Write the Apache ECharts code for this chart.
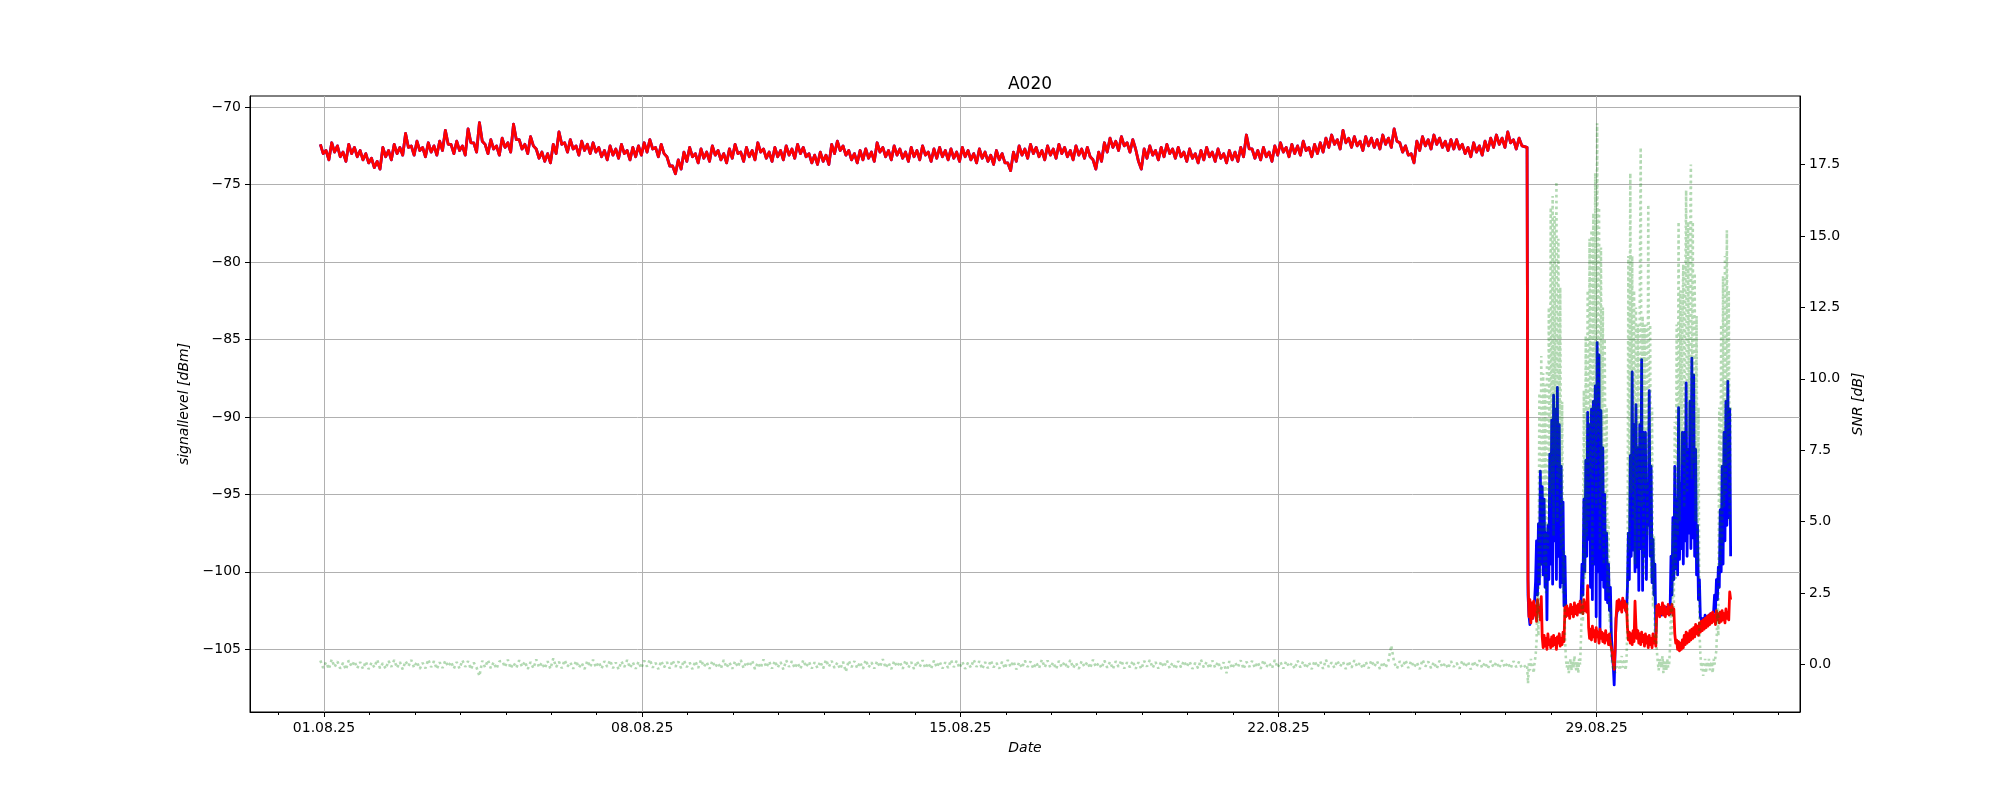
<!DOCTYPE html>
<html><head><meta charset="utf-8">
<script src="https://cdn.jsdelivr.net/npm/echarts@6/dist/echarts.min.js"></script>
<style>html,body{margin:0;padding:0;background:#fff}#c{width:2000px;height:800px}</style>
</head><body><div id="c"></div>
<script>
const chartTitle = 'A020';
const xName = 'Date';
const yLeftName = 'signallevel [dBm]';
const yRightName = 'SNR [dB]';
// x values are days since 01.08.25 00:00
const xTickDays = [0, 7, 14, 21, 28];
const xTickLabels = ['01.08.25', '08.08.25', '15.08.25', '22.08.25', '29.08.25'];
const xMinorDays = [-1,0,1,2,3,4,5,6,7,8,9,10,11,12,13,14,15,16,17,18,19,20,21,22,23,24,25,26,27,28,29,30,31,32];
const yLeftTicks = [-105, -100, -95, -90, -85, -80, -75, -70];
const yRightTicks = [0, 2.5, 5, 7.5, 10, 12.5, 15, 17.5];

// sampling of the readings (days)
const earlyStartDay = -0.08, earlyStepDay = 1 / 16;
const lateStartDay = 26.47, lateStepDay = 1 / 48;

// signal level before the drop (both traces overlap), 16 readings per day [dBm]
const signalEarly = [
-72.4,-73.0,-72.8,-73.4,-72.3,-72.9,-72.5,-73.2,-72.9,-73.5,-72.4,-73.0,-72.6,-73.2,-72.8,-73.4,
-73.0,-73.6,-73.3,-73.9,-73.5,-74.0,-72.6,-73.2,-72.8,-73.4,-72.4,-73.0,-72.6,-73.1,-71.7,-72.6,
-72.5,-73.1,-72.2,-72.8,-72.6,-73.2,-72.3,-72.9,-72.5,-73.1,-72.2,-72.8,-71.5,-72.4,-72.4,-73.0,
-72.2,-72.8,-72.5,-73.1,-71.4,-72.3,-72.3,-72.9,-71.0,-72.2,-72.4,-73.0,-72.1,-72.7,-72.5,-73.1,
-72.0,-72.6,-72.3,-72.9,-71.1,-72.1,-72.1,-72.7,-72.4,-73.0,-71.9,-72.5,-72.7,-73.3,-72.9,-73.5,
-73.0,-73.6,-72.4,-73.0,-71.6,-72.4,-72.3,-72.9,-72.1,-72.7,-72.5,-73.1,-72.2,-72.8,-72.4,-73.0,
-72.3,-72.9,-72.6,-73.2,-72.8,-73.4,-72.5,-73.1,-72.7,-73.3,-72.4,-73.0,-72.8,-73.4,-72.6,-73.2,
-72.5,-73.1,-72.3,-72.9,-72.1,-72.7,-72.6,-73.2,-72.4,-73.0,-73.2,-73.8,-73.8,-74.3,-73.4,-74.0,
-72.9,-73.5,-72.6,-73.2,-73.0,-73.6,-72.7,-73.3,-72.9,-73.5,-72.5,-73.1,-72.8,-73.4,-73.0,-73.6,
-72.7,-73.3,-72.4,-73.0,-72.9,-73.5,-72.6,-73.2,-72.8,-73.4,-72.3,-72.9,-72.7,-73.3,-72.9,-73.5,
-72.6,-73.2,-72.8,-73.4,-72.5,-73.1,-72.7,-73.3,-72.4,-73.0,-72.6,-73.2,-73.0,-73.6,-73.1,-73.7,
-72.9,-73.5,-73.1,-73.7,-72.4,-73.0,-72.2,-72.8,-72.5,-73.1,-72.8,-73.4,-73.0,-73.6,-72.8,-73.4,
-72.7,-73.3,-72.9,-73.5,-72.3,-72.9,-72.6,-73.2,-72.8,-73.4,-72.5,-73.1,-72.7,-73.3,-72.9,-73.5,
-72.6,-73.2,-72.8,-73.4,-72.5,-73.1,-72.9,-73.5,-72.7,-73.3,-72.6,-73.2,-72.8,-73.4,-72.7,-73.3,
-72.9,-73.5,-72.6,-73.2,-72.8,-73.4,-73.0,-73.6,-72.7,-73.3,-72.9,-73.5,-73.1,-73.7,-72.8,-73.4,
-73.0,-73.6,-73.6,-74.1,-72.9,-73.5,-72.5,-73.1,-72.7,-73.3,-72.4,-73.0,-72.6,-73.2,-72.8,-73.4,
-72.5,-73.1,-72.7,-73.3,-72.4,-73.0,-72.6,-73.2,-72.8,-73.4,-72.5,-73.1,-72.7,-73.3,-72.6,-73.2,
-73.4,-74.0,-72.9,-73.5,-72.3,-72.9,-72.0,-72.6,-72.2,-72.8,-71.9,-72.5,-72.3,-72.9,-72.1,-72.7,
-73.5,-74.0,-72.7,-73.3,-72.5,-73.1,-72.8,-73.4,-72.6,-73.2,-72.4,-73.0,-72.7,-73.3,-72.6,-73.2,
-72.9,-73.5,-72.7,-73.3,-73.0,-73.6,-72.8,-73.4,-72.6,-73.2,-72.9,-73.5,-72.7,-73.3,-73.0,-73.6,
-72.8,-73.4,-72.9,-73.5,-72.6,-73.2,-71.8,-72.7,-72.7,-73.3,-72.8,-73.4,-72.6,-73.2,-72.9,-73.5,
-72.5,-73.1,-72.3,-72.9,-72.6,-73.2,-72.4,-73.0,-72.5,-73.1,-72.2,-72.8,-72.6,-73.2,-72.4,-73.0,
-72.3,-72.9,-72.0,-72.6,-71.8,-72.4,-72.1,-72.7,-71.5,-72.3,-72.0,-72.6,-71.9,-72.5,-72.2,-72.8,
-71.9,-72.5,-72.0,-72.6,-72.1,-72.7,-71.8,-72.4,-72.0,-72.6,-71.4,-72.2,-72.3,-72.9,-72.5,-73.1,
-73.0,-73.6,-72.2,-72.8,-71.9,-72.5,-72.1,-72.7,-71.8,-72.4,-72.0,-72.6,-72.2,-72.8,-72.1,-72.7,
-72.1,-72.7,-72.4,-73.0,-72.6,-73.2,-72.3,-72.9,-72.5,-73.1,-72.2,-72.8,-72.0,-72.6,-71.8,-72.4,
-72.0,-72.6,-71.6,-72.3,-72.1,-72.7,-72.0,-72.5
];
// SNR before the drop, 16 readings per day [dB]
const snrEarly = [
0.14,-0.12,0.08,-0.16,0.18,-0.09,0.11,-0.14,0.06,-0.18,0.15,-0.07,0.12,-0.13,0.09,-0.15,
0.11,-0.16,0.07,-0.10,0.17,-0.13,0.05,-0.15,0.13,-0.08,0.16,-0.12,0.09,-0.17,0.12,-0.06,
0.16,-0.11,0.10,-0.15,0.06,-0.13,0.18,-0.09,0.12,-0.16,0.08,-0.12,0.14,-0.07,0.10,-0.14,
0.09,-0.14,0.15,-0.08,0.12,-0.17,0.07,-0.11,-0.40,0.13,-0.10,0.16,-0.13,0.08,-0.15,0.11,
0.13,-0.09,0.17,-0.14,0.06,-0.12,0.15,-0.08,0.11,-0.16,0.09,-0.13,0.18,-0.10,0.07,-0.14,
0.12,-0.15,0.22,-0.09,0.10,-0.13,0.16,-0.07,0.08,-0.15,0.13,-0.11,0.06,-0.16,0.14,-0.09,
0.17,-0.10,0.09,-0.14,0.12,-0.08,0.15,-0.13,0.07,-0.17,0.11,-0.09,0.16,-0.12,0.08,-0.15,
0.10,-0.13,0.14,-0.07,0.18,-0.11,0.06,-0.16,0.13,-0.10,0.09,-0.14,0.15,-0.08,0.11,-0.13,
0.15,-0.09,0.07,-0.16,0.12,-0.12,0.17,-0.08,0.09,-0.15,0.13,-0.10,0.06,-0.14,0.16,-0.11,
0.08,-0.15,0.12,-0.09,0.16,-0.13,0.10,-0.07,0.14,-0.16,0.07,-0.12,0.18,-0.10,0.11,-0.14,
0.13,-0.11,0.09,-0.17,0.15,-0.08,0.12,-0.13,0.06,-0.15,0.16,-0.09,0.10,-0.14,0.08,-0.12,
0.11,-0.14,0.17,-0.08,0.13,-0.12,0.07,-0.16,0.10,-0.25,0.14,-0.09,0.12,-0.13,0.09,-0.15,
0.16,-0.10,0.08,-0.14,0.12,-0.09,0.19,-0.12,0.07,-0.16,0.13,-0.08,0.10,-0.15,0.15,-0.11,
0.09,-0.16,0.12,-0.08,0.15,-0.13,0.06,-0.15,0.14,-0.10,0.11,-0.14,0.08,-0.12,0.16,-0.09,
0.13,-0.12,0.10,-0.15,0.07,-0.11,0.17,-0.08,0.12,-0.16,0.09,-0.13,0.15,-0.10,0.06,-0.14,
0.10,-0.14,0.16,-0.09,0.12,-0.17,0.08,-0.12,0.14,-0.08,0.11,-0.15,0.07,-0.13,0.17,-0.10,
0.14,-0.11,0.08,-0.16,0.13,-0.09,0.10,-0.14,0.16,-0.12,0.06,-0.15,0.12,-0.08,0.09,-0.13,
0.17,-0.09,0.06,-0.13,0.14,-0.11,0.10,-0.16,0.12,-0.08,0.15,-0.14,0.08,-0.10,0.13,-0.15,
0.08,-0.16,0.13,-0.07,0.16,-0.12,0.09,-0.14,0.11,-0.09,0.15,-0.13,0.07,-0.16,0.12,-0.10,
0.13,-0.08,0.11,-0.15,0.06,-0.13,0.17,-0.10,0.09,-0.14,0.14,-0.11,0.10,-0.16,0.08,-0.30,
0.12,-0.14,0.07,-0.10,0.15,-0.16,0.10,-0.08,0.13,-0.12,0.09,-0.15,0.16,-0.09,0.06,-0.13,
0.16,-0.11,0.09,-0.14,0.12,-0.08,0.05,-0.15,0.14,-0.10,0.11,-0.13,0.08,-0.16,0.13,-0.09,
0.11,-0.15,0.17,-0.09,0.08,-0.12,0.14,-0.07,0.10,-0.16,0.12,-0.11,0.15,-0.08,0.07,-0.14,
0.10,-0.13,0.15,-0.08,0.12,-0.16,0.09,-0.11,0.14,0.67,0.07,-0.14,0.12,-0.09,0.16,-0.12,
0.13,-0.10,0.08,-0.16,0.17,-0.07,0.11,-0.13,0.09,-0.15,0.14,-0.10,0.06,-0.14,0.12,-0.08,
0.06,-0.14,0.14,-0.09,0.10,-0.17,0.12,-0.08,0.15,-0.12,0.08,-0.15,0.13,-0.10,0.09,-0.13,
0.15,-0.11,0.07,-0.14,0.12,-0.09,0.10,-0.13
];
// red trace from the drop on, 48 readings per day [dBm]
const redLate = [
-72.6,
-100.5,-102.9,-101.8,-103.3,-102.0,-103.0,-101.9,-102.8,-102.2,-103.2,-101.8,-102.6,-102.3,-103.1,-101.6,
-104.2,-104.9,-104.1,-104.8,-104.3,-105.0,-104.0,-104.7,-104.4,-104.9,-104.2,-104.8,
-104.1,-104.7,-104.3,-105.0,-104.2,-104.6,-104.0,-104.8,-104.3,-104.7,-103.9,-104.5,
-102.3,-102.9,-102.2,-102.8,-102.4,-103.0,-102.1,-102.7,-102.3,-102.9,-102.0,-102.7,
-102.2,-102.8,-102.1,-102.6,-101.9,-102.6,-102.2,-102.7,-101.8,-102.5,-102.0,-102.6,
-100.9,
-103.6,-104.3,-103.7,-104.4,-103.5,-104.2,-103.8,-104.5,-103.6,-104.2,-103.9,-104.6,-103.7,
-104.3,-103.9,-104.5,-104.0,-104.6,-103.8,-104.4,-104.1,-104.7,-104.0,-104.6,-104.9,
-105.2,-105.8,-106.3,-105.0,
-103.0,
-101.9,-102.5,-101.8,-102.4,-102.0,-102.6,-101.7,-102.3,-101.9,-102.5,-102.1,
-103.6,-104.4,-103.9,-104.6,-104.0,-104.7,-103.8,-104.5,-101.9,-103.5,-104.3,-103.8,-104.6,-104.0,-104.7,-103.9,
-104.5,-104.1,-104.8,-104.0,-104.6,-104.2,-104.9,-104.1,-104.7,-104.3,-104.9,-104.0,-104.6,-104.2,-104.8,
-102.2,-102.8,-102.1,-102.9,-102.3,-102.7,-102.0,-102.8,-102.2,-102.9,-102.4,-102.7,-102.1,-102.8,-102.3,
-102.6,-102.1,-102.8,-102.4,
-104.0,-104.6,-104.4,-105.0,-104.5,-105.1,-104.6,-105.0,-104.4,-104.9,
-104.1,-104.7,-103.9,-104.6,-104.0,-104.5,-103.8,-104.4,-103.7,-104.3,
-103.6,-104.2,-103.4,-104.0,-103.5,-104.1,-103.3,-103.9,-103.2,-103.8,
-103.1,-103.7,-103.0,-103.6,-102.9,-103.5,-102.8,-103.4,-102.7,-103.3,
-102.6,-103.2,-102.8,-103.4,-102.5,-103.1,-102.7,-103.3,-102.6,-103.2,
-102.5,-103.1,-102.7,-103.3,-102.4,-103.0,-102.6,-103.1,-101.3,-101.8
];
// blue trace from the drop on, 48 readings per day [dBm]
const blueLate = [
-72.6,
-101.5,-102.8,-103.4,-102.1,-102.6,-103.0,-102.2,-101.8,
-100.6,-98.0,-101.5,-96.9,-100.8,-93.5,-99.5,-94.5,-100.2,-95.3,-101.0,-97.5,-103.1,-97.0,-100.5,-92.4,
-99.5,-90.2,-100.8,-88.6,-98.0,-89.5,-100.5,-88.1,-99.0,-90.5,-101.0,-93.2,-100.7,-95.5,-102.2,-99.0,
-102.7,-102.4,-102.8,-102.5,-102.6,-102.3,-102.7,-102.4,-102.5,-102.2,-102.6,-102.4,-102.3,-102.5,-102.1,-102.6,
-102.0,-99.5,-101.5,-95.3,-100.0,-92.8,-99.0,-89.7,-97.9,-90.5,-101.0,-89.5,-101.8,-89.0,-99.5,-88.0,-102.9,-85.2,-100.0,
-86.0,-104.0,-89.6,-100.5,-92.0,-101.0,-95.0,-101.8,-97.5,-102.0,-99.5,-102.5,-101.0,-104.0,-105.5,-106.0,-107.3,-105.0,-103.0,
-102.6,-102.2,-102.4,-102.0,-102.3,-101.9,-102.2,-102.0,-101.9,-102.3,-102.6,
-101.0,-97.5,-100.5,-92.5,-99.0,-87.1,-98.6,-90.5,-100.0,-89.2,-99.7,-92.0,-101.2,-90.5,-98.5,-86.3,
-101.2,-91.0,-99.0,-91.0,-100.5,-94.3,-97.0,-88.3,-99.0,-93.2,-100.7,-97.9,-101.5,-99.5,-104.0,-102.2,
-102.4,-102.7,-102.3,-102.5,-102.8,-102.2,-102.6,-102.4,-102.7,-102.3,-102.5,-102.6,-102.4,
-102.7,-99.0,-101.5,-96.5,-100.5,-93.2,-99.8,-95.3,-100.2,-89.4,-99.2,-94.3,-98.5,-91.0,-99.5,-91.0,-98.0,
-87.8,-99.0,-92.1,-97.5,-89.0,-98.5,-86.2,-97.8,-87.3,-99.0,-92.1,-100.2,-97.0,-101.8,-100.5,-102.9,
-103.1,-103.4,-103.0,-103.3,-102.8,-103.1,-102.9,-103.2,-102.8,-103.0,-102.7,-103.1,-102.8,
-102.6,-101.5,-102.4,-100.5,-101.8,-99.7,-101.0,-96.0,-100.0,-93.2,-99.5,-91.0,-98.0,-89.0,-97.0,-87.7,-96.5,-89.5,-99.0
];
// SNR from the drop on, 48 readings per day [dB]
const snrLate = [
0.0,
-0.66,0.1,-0.2,0.2,-0.1,0.0,-0.3,0.1,
0.3,0.8,2.5,1.0,9.5,3.0,10.8,4.5,10.2,3.5,9.8,2.5,10.5,4.0,12.5,5.5,
16.0,6.0,16.4,4.5,15.7,7.0,16.9,5.0,14.9,6.5,13.2,4.0,9.2,2.5,4.0,1.0,
0.2,-0.1,0.1,-0.3,0.0,0.2,-0.2,0.1,-0.1,0.3,0.0,-0.2,0.1,-0.3,0.2,0.0,
1.0,2.5,1.5,9.6,3.0,11.5,4.5,13.1,5.0,14.9,6.5,15.2,3.5,15.8,7.0,17.2,5.5,18.95,8.0,
16.0,4.0,14.6,6.0,12.5,3.5,11.4,4.5,9.0,2.5,5.0,1.5,2.0,0.3,0.0,-0.2,0.1,-0.3,0.0,
-0.1,0.2,0.0,-0.2,0.1,0.3,-0.1,0.0,0.2,-0.2,0.1,
1.5,14.3,4.0,17.2,6.0,14.3,5.0,13.1,3.5,12.5,6.5,11.9,4.0,12.5,18.1,5.5,
12.2,3.0,11.9,6.0,11.9,4.5,16.1,7.0,11.9,3.0,9.0,2.0,4.5,0.8,1.5,0.5,
0.1,-0.2,0.2,0.0,-0.1,0.3,-0.3,0.1,0.0,-0.2,0.2,-0.1,0.0,
0.6,2.0,1.0,5.0,2.0,8.5,3.0,11.9,4.5,15.5,5.0,13.1,7.0,12.0,14.0,5.5,12.5,
16.6,6.0,15.5,8.0,14.0,17.5,6.5,15.5,7.0,13.7,5.0,12.2,3.5,9.0,1.2,0.4,
-0.2,0.1,-0.4,0.0,0.2,-0.3,0.1,-0.1,0.2,-0.2,0.0,0.1,-0.3,
0.2,0.0,0.3,0.5,2.0,1.0,9.0,3.5,11.9,4.0,13.6,5.5,14.3,6.0,15.2,7.0,13.1,5.0,9.0
];

function pairs(vals, start, step) { return vals.map((v, i) => [start + i * step, v]); }
const redData = pairs(signalEarly, earlyStartDay, earlyStepDay).concat(pairs(redLate, lateStartDay, lateStepDay));
const blueData = pairs(signalEarly, earlyStartDay, earlyStepDay).concat(pairs(blueLate, lateStartDay, lateStepDay));
const snrData = pairs(snrEarly, earlyStartDay, earlyStepDay).concat(pairs(snrLate, lateStartDay, lateStepDay));

const FONT = 'DejaVu Sans';
const tickText = { fontFamily: FONT, fontSize: 14, color: '#000' };
const nameText = { fontFamily: FONT, fontSize: 14, color: '#000', fontStyle: 'italic' };
const blackLine = { show: true, onZero: false, lineStyle: { color: '#000', width: 1 } };

const chart = echarts.init(document.getElementById('c'), null, { renderer: 'canvas' });
chart.setOption({
  animation: false,
  backgroundColor: '#fff',
  title: { text: chartTitle, left: 1025, top: 71, textAlign: 'center',
    textStyle: { fontFamily: FONT, fontSize: 17, fontWeight: 'normal', color: '#000' } },
  grid: { left: 250, right: 200, top: 96, bottom: 88, show: true, borderColor: '#000', borderWidth: 1, backgroundColor: 'transparent' },
  xAxis: [{
    type: 'value', min: -1.628, max: 32.475, position: 'bottom',
    name: xName, nameLocation: 'middle', nameGap: 29, nameTextStyle: nameText,
    axisLine: blackLine,
    axisTick: { show: true, customValues: xTickDays, length: 5, lineStyle: { color: '#000', width: 1 } },
    axisLabel: { show: true, customValues: xTickDays, margin: 9, ...tickText,
      formatter: v => { const i = xTickDays.indexOf(Math.round(v)); return i >= 0 ? xTickLabels[i] : ''; } },
    splitLine: { show: true, lineStyle: { color: '#b0b0b0', width: 1 } }
  }, {
    type: 'value', min: -1.628, max: 32.475, position: 'bottom',
    axisLine: { show: false, onZero: false },
    axisTick: { show: true, customValues: xMinorDays, length: 3, lineStyle: { color: '#000', width: 1 } },
    axisLabel: { show: false }, splitLine: { show: false }
  }],
  yAxis: [{
    type: 'value', min: -109.05, max: -69.28, position: 'left',
    name: yLeftName, nameLocation: 'middle', nameGap: 55, nameRotate: 90, nameTextStyle: nameText,
    axisLine: blackLine,
    axisTick: { show: true, customValues: yLeftTicks, length: 5, lineStyle: { color: '#000', width: 1 } },
    axisLabel: { show: true, customValues: yLeftTicks, margin: 9, ...tickText,
      formatter: v => String(Math.round(v)).replace('-', '\u2212') },
    splitLine: { show: true, lineStyle: { color: '#b0b0b0', width: 1 } }
  }, {
    type: 'value', min: -1.66, max: 19.9, position: 'right',
    name: yRightName, nameLocation: 'middle', nameGap: 40, nameRotate: 90, nameTextStyle: nameText,
    axisLine: blackLine,
    axisTick: { show: true, customValues: yRightTicks, length: 5, lineStyle: { color: '#000', width: 1 } },
    axisLabel: { show: true, customValues: yRightTicks, margin: 9, ...tickText,
      formatter: v => v.toFixed(1) },
    splitLine: { show: false }
  }],
  series: [
    { type: 'line', xAxisIndex: 0, yAxisIndex: 0, data: blueData, showSymbol: false, symbol: 'none',
      lineStyle: { color: '#0000ff', width: 2.8, join: 'round' }, z: 2 },
    { type: 'line', xAxisIndex: 0, yAxisIndex: 0, data: redData, showSymbol: false, symbol: 'none',
      lineStyle: { color: '#ff0000', width: 2.8, join: 'round' }, z: 3 },
    { type: 'line', xAxisIndex: 0, yAxisIndex: 1, data: snrData, showSymbol: false, symbol: 'none',
      lineStyle: { color: 'rgba(0,128,0,0.3)', width: 2.6, type: [2.6, 3.2] }, z: 4 }
  ]
});
</script>
</body></html>
